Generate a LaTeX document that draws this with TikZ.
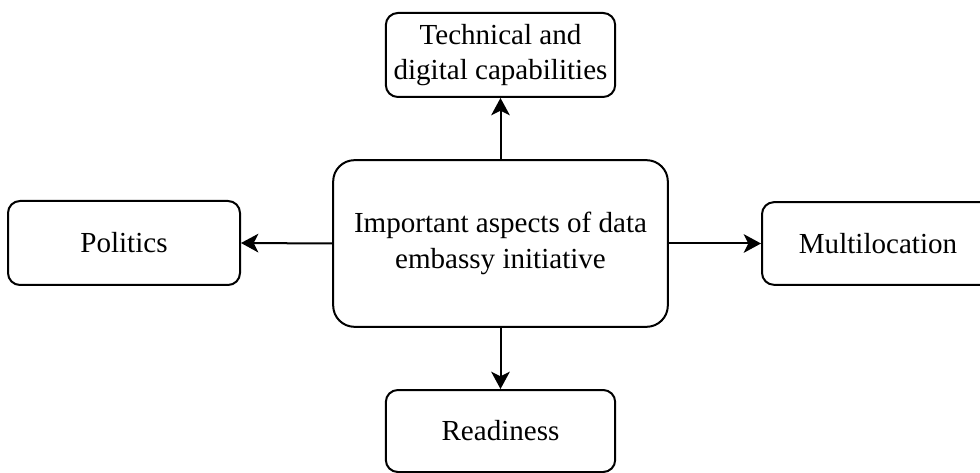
\documentclass[tikz,border=0pt]{standalone}
\usepackage{fontspec}
\setmainfont{Liberation Serif}
\usetikzlibrary{arrows.meta}
\begin{document}
\begin{tikzpicture}[x=0.75pt,y=-0.75pt,
  box/.style={draw, line width=1.5pt, rounded corners=9pt, inner sep=0pt,
    align=center, font=\fontsize{21.8pt}{26.5pt}\selectfont},
  hub/.style={box, rounded corners=16pt},
  link/.style={line width=1.5pt, -{Stealth[length=13pt,width=14pt,inset=3.5pt]}}]
  % canvas
  \path[use as bounding box] (0,0) rectangle (980,473);
  \clip (0,0) rectangle (980,473);

  % central topic
  \node[hub, minimum width=251pt, minimum height=125pt] (core) at (500.5,243.5)
    {Important aspects of data\\embassy initiative};

  % surrounding aspects
  \node[box, minimum width=172pt, minimum height=63pt] (tech) at (500.5,55)
    {Technical and\\digital capabilities};
  \node[box, minimum width=174pt, minimum height=63pt] (pol) at (124,243)
    {Politics};
  \node[box, minimum width=174pt, minimum height=62pt] (multi) at (878,243.5)
    {Multilocation};
  \node[box, minimum width=172pt, minimum height=61.5pt] (ready) at (500.5,431)
    {Readiness};

  % connectors
  \draw[link] (core.north) -- (tech.south);
  \draw[link] (core.west) -- (pol.east);
  \draw[link] (core.east) -- (multi.west);
  \draw[link] (core.south) -- (ready.north);
\end{tikzpicture}
\end{document}
